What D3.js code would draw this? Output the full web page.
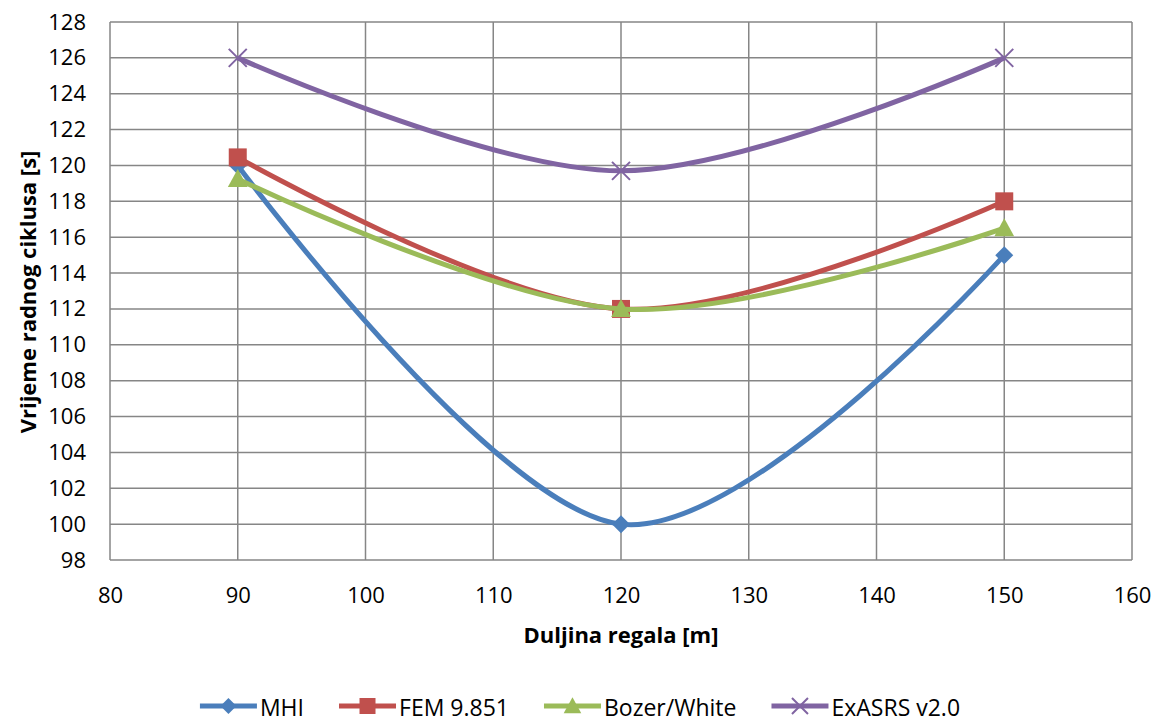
<!DOCTYPE html>
<html>
<head>
<meta charset="utf-8">
<script src="https://cdn.jsdelivr.net/npm/d3@7"></script>
<style>
  body { margin: 0; background: #fff; }
  svg text { font-family: "Open Sans", Lato, sans-serif; fill: #000; }
</style>
</head>
<body>
<svg id="chart" width="1159" height="722"></svg>
<script>
// data
var lengths = [90, 120, 150];
var mhi = [120, 100, 115];
var fem = [120.45, 112, 118];
var bozer = [119.25, 112, 116.5];
var exasrs = [126, 119.7, 126];

var seriesNames = ["MHI", "FEM 9.851", "Bozer/White", "ExASRS v2.0"];
var seriesColors = ["#4A7EBB", "#C0504D", "#9BBB59", "#8064A2"];
var seriesMarkers = ["diamond", "square", "triangle", "cross"];

var xTicks = [80, 90, 100, 110, 120, 130, 140, 150, 160];
var yTicks = d3.range(98, 129, 2);

var margin = {left: 110, top: 22, right: 27, bottom: 162};

var svg = d3.select("#chart");
var width = +svg.attr("width") - margin.left - margin.right;
var height = +svg.attr("height") - margin.top - margin.bottom;
var g = svg.append("g").attr("transform", `translate(${margin.left}, ${margin.top})`);

var x = d3.scaleLinear().domain([80, 160]).range([0, width]);
var y = d3.scaleLinear().domain([98, 128]).range([height, 0]);

// grid
g.append("g")
  .selectAll("line.h")
  .data(yTicks)
  .enter().append("line")
  .attr("x1", 0).attr("x2", width)
  .attr("y1", d => y(d)).attr("y2", d => y(d))
  .attr("stroke", "#868686").attr("stroke-width", 1.5);

g.append("g")
  .selectAll("line.v")
  .data(xTicks)
  .enter().append("line")
  .attr("y1", 0).attr("y2", height)
  .attr("x1", d => x(d)).attr("x2", d => x(d))
  .attr("stroke", "#868686").attr("stroke-width", 1.5);

// axes labels
g.append("g").call(d3.axisLeft(y).tickValues(yTicks).tickSize(0).tickPadding(24))
  .call(a => a.select(".domain").remove())
  .selectAll("text").style("font-size", "22px").attr("font-family", null);

g.append("g").attr("transform", `translate(0, ${height})`)
  .call(d3.axisBottom(x).tickValues(xTicks).tickSize(0).tickPadding(27))
  .call(a => a.select(".domain").remove())
  .selectAll("text").style("font-size", "22px").attr("font-family", null);

svg.append("text")
  .attr("x", 621).attr("y", 643)
  .attr("text-anchor", "middle")
  .style("font-size", "22px").style("font-weight", "bold")
  .text("Duljina regala [m]");

svg.append("text")
  .attr("transform", "translate(36, 292) rotate(-90)")
  .attr("text-anchor", "middle")
  .style("font-size", "22px").style("font-weight", "bold")
  .text("Vrijeme radnog ciklusa [s]");

// lines
var allSeries = [mhi, fem, bozer, exasrs];
var line = d3.line()
  .x((d, i) => x(lengths[i]))
  .y(d => y(d))
  .curve(d3.curveCardinal.tension(0));

function drawMarker(sel, type, color, r) {
  if (type == "diamond") {
    sel.append("path").attr("d", `M0,${-r}L${r},0L0,${r}L${-r},0Z`).attr("fill", color);
  } else if (type == "square") {
    sel.append("rect").attr("x", -r).attr("y", -r).attr("width", 2 * r).attr("height", 2 * r).attr("fill", color);
  } else if (type == "triangle") {
    sel.append("path").attr("d", `M0,${-r * 1.1}L${r * 1.1},${r * 0.9}L${-r * 1.1},${r * 0.9}Z`).attr("fill", color);
  } else {
    sel.append("path").attr("d", `M${-r},${-r}L${r},${r}M${-r},${r}L${r},${-r}`).attr("stroke", color).attr("stroke-width", 2);
  }
}

allSeries.forEach(function(s, k) {
  g.append("path")
    .datum(s)
    .attr("fill", "none")
    .attr("stroke", seriesColors[k])
    .attr("stroke-width", 5)
    .attr("d", line);

  s.forEach(function(v, i) {
    var m = g.append("g").attr("transform", `translate(${x(lengths[i])}, ${y(v)})`);
    drawMarker(m, seriesMarkers[k], seriesColors[k], 9);
  });
});

// legend
var legend = svg.append("g");
var lx = 0;
seriesNames.forEach(function(name, k) {
  var item = legend.append("g").attr("transform", `translate(${lx}, 0)`);
  item.append("line").attr("x1", 0).attr("x2", 57).attr("y1", 0).attr("y2", 0)
    .attr("stroke", seriesColors[k]).attr("stroke-width", 5);
  drawMarker(item.append("g").attr("transform", "translate(28.5, 0)"), seriesMarkers[k], seriesColors[k], 8);
  var t = item.append("text").attr("x", 60).attr("y", 10)
    .style("font-size", "23px").text(name);
  lx += 60 + t.node().getComputedTextLength() + 35;
});
var legendWidth = lx - 35;
legend.attr("transform", `translate(${580 - legendWidth / 2}, 706)`);
</script>
</body>
</html>
